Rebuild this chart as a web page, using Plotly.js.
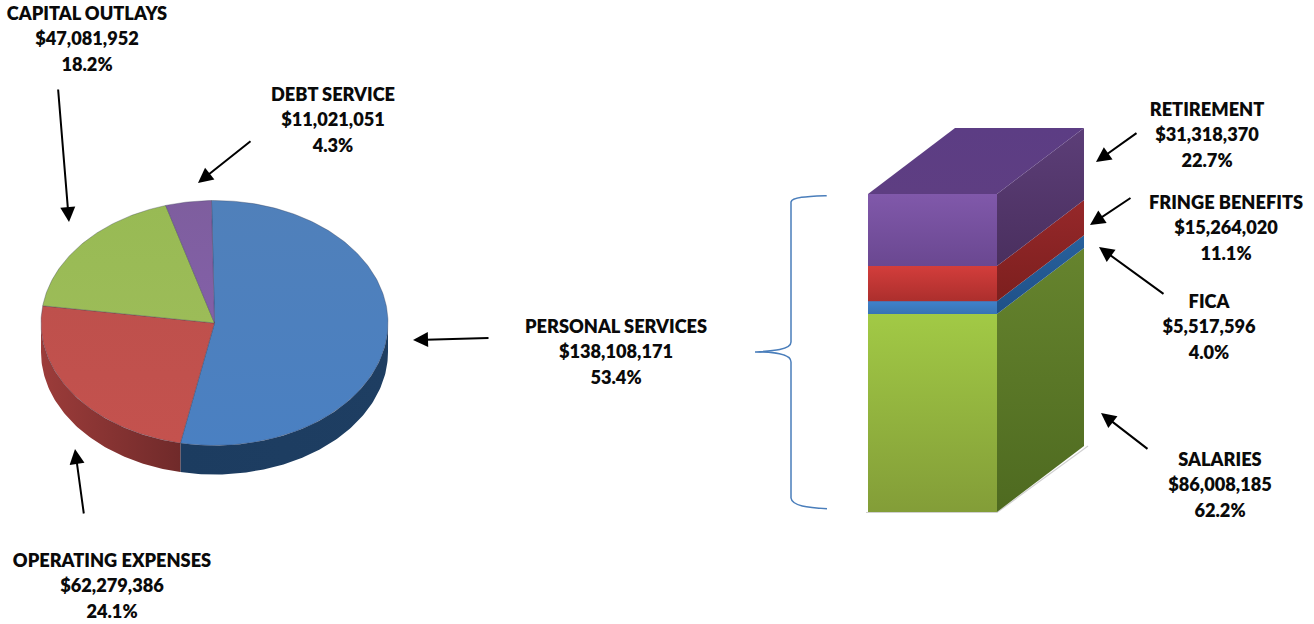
<!DOCTYPE html>
<html>
<head>
<meta charset="utf-8">
<script src="https://cdn.plot.ly/plotly-3.0.1.min.js"></script>
<style>html,body{margin:0;padding:0;background:#fff}#chart{width:1314px;height:624px}</style>
</head>
<body>
<div id="chart"></div>
<script>
// ---------- data ----------
const pieNames   = ["PERSONAL SERVICES", "OPERATING EXPENSES", "CAPITAL OUTLAYS", "DEBT SERVICE"];
const pieValues  = [138108171, 62279386, 47081952, 11021051];
const piePercent = ["53.4%", "24.1%", "18.2%", "4.3%"];

const stackNames   = ["SALARIES", "FICA", "FRINGE BENEFITS", "RETIREMENT"];
const stackValues  = [86008185, 5517596, 15264020, 31318370];
const stackPercent = ["62.2%", "4.0%", "11.1%", "22.7%"];

// ---------- styles ----------
const pieTop  = [["#4a80c2","#5080ba"],["#c4524e","#be504c"],["#9cbc58","#98ba54"],["#8360a8","#7e5e9e"]];
const pieRim  = [["#1c3c60","#1e3e62"],["#9c3c3a","#702a2a"]];
const frontColors = ["#94bb42","#3c7cc2","#c63a38","#7650a0"];
// each pair runs bottom colour -> top colour
const frontShade  = [["rgba(128,152,54,0.85)","rgba(164,204,70,0.85)"],["rgba(54,112,175,0.7)","rgba(66,132,205,0.7)"],
                     ["rgba(165,44,42,0.8)","rgba(214,62,60,0.8)"],["rgba(104,70,142,0.85)","rgba(130,90,172,0.85)"]];
const sideColors  = [["#4e6a20","#66842e"],["#1f5088","#28619c"],["#7c1f1e","#96282a"],["#4a2f5e","#5c3e78"]];
const topColor    = ["#5e3e82","#5c3d84"];

// ---------- geometry of the two drawings, in page pixels ----------
const pie = {cx:214.5, cy:323, rx:173.5, ry:122.5, depth:29, rotation:-1};
const box = {x0:868, x1:997, base:512, height:318, dx:87, dy:66};

const W = 1314, H = 624;
const traces = [];
const rad = d => d*Math.PI/180;
const px = a => pie.cx + pie.rx*Math.sin(rad(a));
const py = a => pie.cy - pie.ry*Math.cos(rad(a));
function arc(a,b,off){
  const xs=[],ys=[]; const n=Math.max(2,Math.ceil(Math.abs(b-a)));
  for(let i=0;i<=n;i++){const t=a+(b-a)*i/n; xs.push(px(t)); ys.push(py(t)+off);}
  return [xs,ys];
}
function grad(type,c){return {type:type,colorscale:[[0,c[0]],[1,c[1]]]};}

// pie
const pieTotal = pieValues.reduce((s,v)=>s+v,0);
let acc=0;
const wedges=pieValues.map(v=>{const a=acc/pieTotal*360+pie.rotation; acc+=v; return [a,acc/pieTotal*360+pie.rotation];});
// rim (visible only in the front half)
wedges.forEach((w,i)=>{
  const a=Math.max(w[0],90), b=Math.min(w[1],270);
  if(b<=a) return;
  const top=arc(a,b,0), bot=arc(b,a,pie.depth);
  traces.push({type:'scatter',mode:'lines',x:top[0].concat(bot[0]),y:top[1].concat(bot[1]),fill:'toself',
    fillgradient:grad('horizontal',i===0?pieRim[0]:pieRim[1]),line:{width:0},hoverinfo:'skip',showlegend:false});
});
// top
wedges.forEach((w,i)=>{
  const e=arc(w[0],w[1],0);
  traces.push({type:'scatter',mode:'lines',x:[pie.cx].concat(e[0],[pie.cx]),y:[pie.cy].concat(e[1],[pie.cy]),fill:'toself',
    fillgradient:grad('vertical',pieTop[i]),line:{width:0.6,color:'rgba(50,55,80,0.55)'},hoverinfo:'skip',showlegend:false,name:pieNames[i]});
});

// stacked box, value axis y2
const stackTotal = stackValues.reduce((s,v)=>s+v,0);
const k = stackTotal/box.height;           // dollars per pixel
const dyV = box.dy*k;
const y2Range=[(box.base-H)*k, box.base*k];
// faint ground shadow
traces.push({type:'scatter',mode:'lines',yaxis:'y2',x:[box.x0-2,box.x1,box.x1+box.dx+4],y:[-0.5*k,-0.5*k,dyV],
  line:{color:'rgba(150,150,150,0.45)',width:1.2},hoverinfo:'skip',showlegend:false});
let low=0;
stackValues.forEach((v,i)=>{
  const hi=low+v;
  traces.push({type:'bar',x:[(box.x0+box.x1)/2],y:[v],width:[box.x1-box.x0],yaxis:'y2',marker:{color:frontColors[i],line:{width:0}},
    name:stackNames[i],hoverinfo:'skip',showlegend:false});
  // shading of the front face
  traces.push({type:'scatter',mode:'lines',yaxis:'y2',x:[box.x0,box.x1,box.x1,box.x0,box.x0],y:[low,low,hi,hi,low],fill:'toself',
    fillgradient:grad('vertical',frontShade[i]),line:{width:0},hoverinfo:'skip',showlegend:false});
  // side face
  traces.push({type:'scatter',mode:'lines',yaxis:'y2',
    x:[box.x1,box.x1+box.dx,box.x1+box.dx,box.x1,box.x1],y:[low,low+dyV,hi+dyV,hi,low],fill:'toself',
    fillgradient:grad('vertical',sideColors[i]),line:{width:0},hoverinfo:'skip',showlegend:false});
  low=hi;
});
// top face
traces.push({type:'scatter',mode:'lines',yaxis:'y2',
  x:[box.x0,box.x1,box.x1+box.dx,box.x0+box.dx,box.x0],y:[low,low,low+dyV,low+dyV,low],fill:'toself',
  fillgradient:grad('vertical',topColor),line:{width:0},hoverinfo:'skip',showlegend:false});

// labels: [x centre, y of first line] for each label
const fmt = v => "$"+v.toLocaleString('en-US');
const pieLabelX  = [616, 112, 87, 333];
const pieLabelY  = [328, 562, 15, 96];
const stackLabelX = [1220, 1209, 1226, 1207];
const stackLabelY = [461, 303, 204, 111];
const lineStep = [0, 25.6, 51.5];
const tx=[],ty=[],tt=[];
function addLabel(x,y,name,val,pct){
  [name,fmt(val),pct].forEach((s,i)=>{tx.push(x);ty.push(y+lineStep[i]);tt.push(s);});
}
pieNames.forEach((n,i)=>addLabel(pieLabelX[i],pieLabelY[i],n,pieValues[i],piePercent[i]));
stackNames.forEach((n,i)=>addLabel(stackLabelX[i],stackLabelY[i],n,stackValues[i],stackPercent[i]));
traces.push({type:'scatter',mode:'text',x:tx,y:ty,text:tt,textposition:'middle center',
  textfont:{family:'Lato, sans-serif',size:18.2,color:'#0a0a0a',weight:800},hoverinfo:'skip',showlegend:false});

// arrows: tail x, tail y, head x, head y
const arrows=[[58,88,69,222],[252,140,198,183],[490,338,413,340],[84,515,75,449],
              [1138,132,1096,162],[1132,197,1090,225],[1165,295,1099,247],[1149,450,1101,413]];
const annotations=arrows.map(a=>({xref:'x',yref:'y',axref:'x',ayref:'y',x:a[2],y:a[3],ax:a[0],ay:a[1],text:'',showarrow:true,
  arrowhead:2,arrowsize:1.5,arrowwidth:2,arrowcolor:'#000000',standoff:0,startstandoff:0}));

const brace="M 826.7 195.7 C 808 196.5 792 197 791 202 L 791 342 C 791 350 772 351 755 352 C 772 352 791 353 791 362 L 791 498 C 792 506 808 507.5 827 508.7";
const layout={
  width:W,height:H,margin:{l:0,r:0,t:0,b:0},paper_bgcolor:'#ffffff',plot_bgcolor:'#ffffff',
  showlegend:false,barmode:'stack',
  xaxis:{range:[0,W],visible:false,fixedrange:true},
  yaxis:{range:[H,0],visible:false,fixedrange:true},
  yaxis2:{range:y2Range,overlaying:'y',visible:false,fixedrange:true},
  shapes:[{type:'path',path:brace,xref:'x',yref:'y',line:{color:'#4a7ebb',width:1.5},layer:'above'}],
  annotations:annotations
};
Plotly.newPlot('chart',traces,layout,{displayModeBar:false,staticPlot:true});
</script>
</body>
</html>
